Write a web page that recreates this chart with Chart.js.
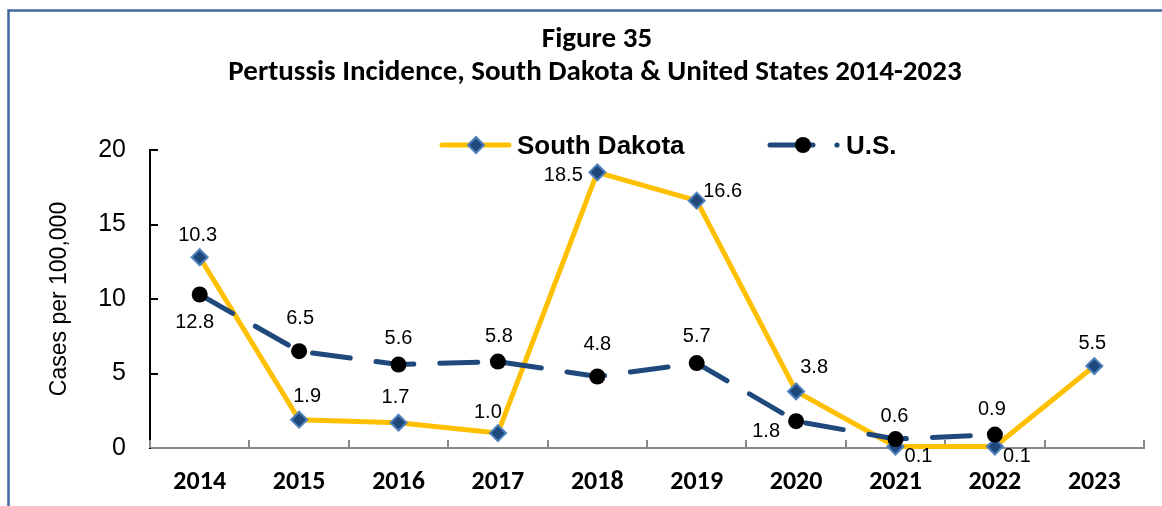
<!DOCTYPE html>
<html>
<head>
<meta charset="utf-8">
<title>Pertussis Incidence</title>
<script src="https://cdn.jsdelivr.net/npm/chart.js@4.4.1/dist/chart.umd.min.js"></script>
<style>
  html, body { margin: 0; padding: 0; background: #fff; }
  #wrap { width: 1162px; height: 506px; }
</style>
</head>
<body>
<div id="wrap"><canvas id="pertussisChart" width="1162" height="506"></canvas></div>
<script>
const years = ["2014", "2015", "2016", "2017", "2018", "2019", "2020", "2021", "2022", "2023"];
const southDakota = [12.8, 1.9, 1.7, 1.0, 18.5, 16.6, 3.8, 0.1, 0.1, 5.5];
const unitedStates = [10.3, 6.5, 5.6, 5.8, 4.8, 5.7, 1.8, 0.6, 0.9, null];
const yMin = 0;
const yMax = 20;
const yStep = 5;
const titleLines = ["Figure 35", "Pertussis Incidence, South Dakota & United States 2014-2023"];
const yTitle = "Cases per 100,000";

// where each value label sits relative to its own point [dx, dy]
const sdLabelShift = [[-5, 65], [8, -23], [-3, -25], [-10, -21], [-34, 3], [26, -9], [18, -24], [23, 10], [22, 10], [-2, -23]];
const usLabelShift = [[-2, -59], [1, -33], [0, -26], [1, -25], [0, -32], [0, -27], [-30, 10], [-1, -23], [-3, -25], [0, 0]];

const SD_LINE = "#FFC000";
const NAVY = "#1F497D";
const DIAMOND_EDGE = "#4F81BD";
const ARIAL = '"Liberation Sans", Arial, sans-serif';
const CALIBRI = 'Carlito, Calibri, Lato, sans-serif';

const decorations = {
  id: "decorations",
  beforeDraw(chart) {
    const ctx = chart.ctx;
    ctx.save();
    ctx.fillStyle = "#fff";
    ctx.fillRect(0, 0, chart.width, chart.height);
    // frame round the figure
    ctx.strokeStyle = "#41689C";
    ctx.lineWidth = 2.5;
    ctx.beginPath();
    ctx.moveTo(8.5, chart.height);
    ctx.lineTo(8.5, 10.5);
    ctx.lineTo(chart.width, 10.5);
    ctx.stroke();

    // title
    ctx.fillStyle = "#000";
    ctx.textAlign = "center";
    ctx.textBaseline = "middle";
    ctx.font = "bold 29px " + CALIBRI;
    ctx.fillText(titleLines[0], 597, 40);
    ctx.fillText(titleLines[1], 595, 73);

    // legend
    ctx.lineCap = "round";
    ctx.lineWidth = 5;
    ctx.strokeStyle = SD_LINE;
    ctx.beginPath();
    ctx.moveTo(442, 145);
    ctx.lineTo(509, 145);
    ctx.stroke();
    ctx.fillStyle = NAVY;
    ctx.strokeStyle = DIAMOND_EDGE;
    ctx.lineWidth = 2;
    Chart.helpers.drawPoint(ctx, { pointStyle: "rectRot", radius: 8, rotation: 0, borderWidth: 2 }, 476, 145);

    ctx.strokeStyle = NAVY;
    ctx.lineWidth = 5;
    ctx.beginPath();
    ctx.moveTo(770, 145);
    ctx.lineTo(813, 145);
    ctx.stroke();
    ctx.fillStyle = "#000";
    ctx.beginPath();
    ctx.arc(803, 145, 8, 0, Math.PI * 2);
    ctx.fill();
    ctx.fillStyle = NAVY;
    ctx.beginPath();
    ctx.arc(837, 145, 2.6, 0, Math.PI * 2);
    ctx.fill();

    ctx.fillStyle = "#000";
    ctx.textAlign = "left";
    ctx.textBaseline = "alphabetic";
    ctx.font = "bold 26px " + ARIAL;
    ctx.fillText("South Dakota", 517, 154);
    ctx.fillText("U.S.", 846, 154);
    ctx.restore();
  },
  beforeDatasetsDraw(chart) {
    const ctx = chart.ctx;
    const xs = chart.scales.x;
    const ys = chart.scales.y;
    const area = chart.chartArea;
    ctx.save();
    // tick marks pointing into the plot
    ctx.lineWidth = 2;
    ctx.strokeStyle = "#898989";
    for (let i = 0; i <= years.length; i++) {
      const x = Math.round(xs.getPixelForValue(i - 0.5));
      ctx.beginPath();
      ctx.moveTo(x, area.bottom);
      ctx.lineTo(x, area.bottom - 8);
      ctx.stroke();
    }
    ctx.strokeStyle = "#000";
    for (let v = yMin + yStep; v <= yMax; v += yStep) {
      const y = Math.round(ys.getPixelForValue(v));
      ctx.beginPath();
      ctx.moveTo(area.left, y);
      ctx.lineTo(area.left + 8, y);
      ctx.stroke();
    }
    ctx.restore();
  },
  afterDatasetsDraw(chart) {
    const ctx = chart.ctx;
    ctx.save();
    ctx.fillStyle = "#000";
    ctx.font = "20px " + ARIAL;
    ctx.textAlign = "center";
    ctx.textBaseline = "middle";
    chart.data.datasets.forEach((ds, di) => {
      const meta = chart.getDatasetMeta(di);
      const shift = ds.label === "South Dakota" ? sdLabelShift : usLabelShift;
      meta.data.forEach((pt, i) => {
        const v = ds.data[i];
        if (v === null || v === undefined) return;
        ctx.fillText(v.toFixed(1), pt.x + shift[i][0], pt.y + shift[i][1]);
      });
    });
    ctx.restore();
  }
};

new Chart(document.getElementById("pertussisChart"), {
  type: "line",
  data: {
    labels: years,
    datasets: [
      {
        label: "South Dakota",
        data: southDakota,
        order: 1,
        borderColor: SD_LINE,
        borderWidth: 5,
        borderCapStyle: "round",
        borderJoinStyle: "round",
        pointStyle: "rectRot",
        pointRadius: 8,
        pointBackgroundColor: NAVY,
        pointBorderColor: DIAMOND_EDGE,
        pointBorderWidth: 2,
        tension: 0,
        clip: false
      },
      {
        label: "U.S.",
        data: unitedStates,
        order: 0,
        borderColor: NAVY,
        borderWidth: 5,
        borderDash: [38, 26],
        borderCapStyle: "round",
        pointStyle: "circle",
        pointRadius: 8,
        pointBackgroundColor: "#000",
        pointBorderColor: "#000",
        pointBorderWidth: 0,
        tension: 0,
        spanGaps: false,
        clip: false
      }
    ]
  },
  options: {
    responsive: false,
    animation: false,
    events: [],
    layout: { padding: { top: 150, right: 18, bottom: 0, left: 42 } },
    plugins: {
      legend: { display: false },
      title: { display: false },
      tooltip: { enabled: false }
    },
    scales: {
      x: {
        offset: true,
        grid: { display: true, drawOnChartArea: false, drawTicks: false },
        border: { display: true, color: "#898989", width: 2 },
        ticks: {
          color: "#000",
          font: { family: CALIBRI, size: 26, weight: "bold" },
          padding: 19,
          maxRotation: 0,
          autoSkip: false
        },
        afterFit: (s) => { s.height = 58; }
      },
      y: {
        min: yMin,
        max: yMax,
        grid: { display: true, drawOnChartArea: false, drawTicks: false },
        border: { display: true, color: "#000", width: 2 },
        ticks: {
          stepSize: yStep,
          color: "#000",
          font: { family: ARIAL, size: 25 },
          padding: 24
        },
        title: {
          display: true,
          text: yTitle,
          color: "#000",
          font: { family: ARIAL, size: 23 }
        },
        afterFit: (s) => { s.width = 108; }
      }
    }
  },
  plugins: [decorations]
});
</script>
</body>
</html>
